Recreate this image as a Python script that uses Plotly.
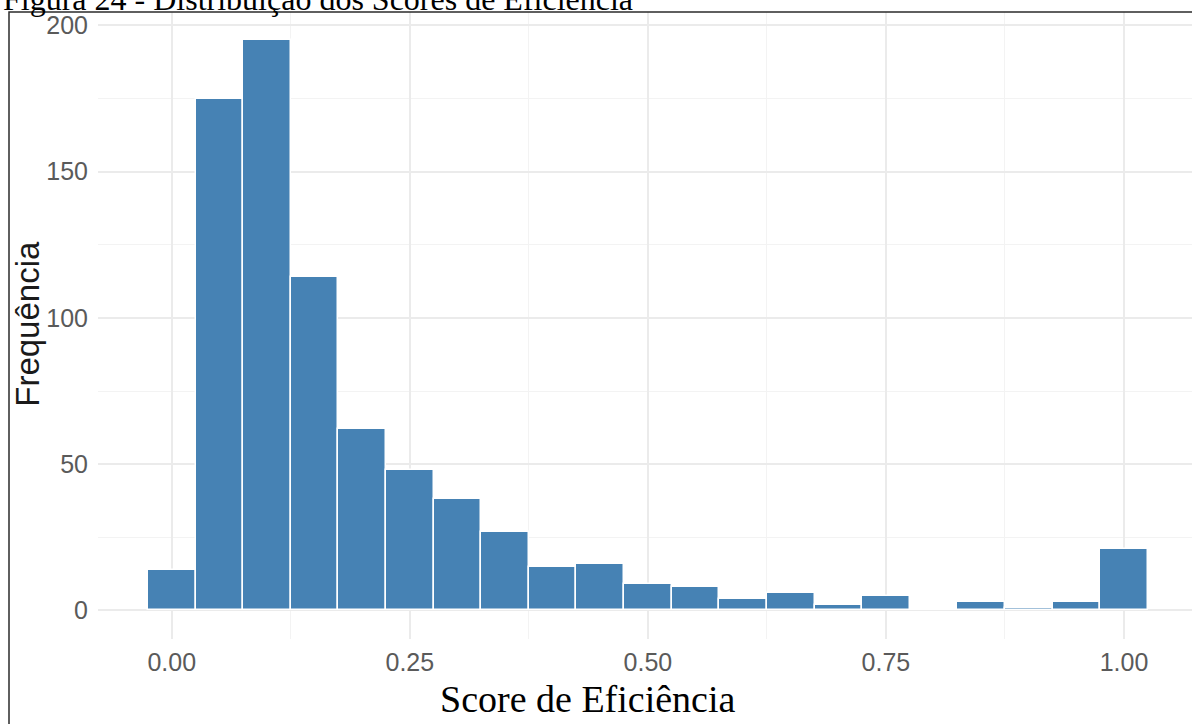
import plotly.graph_objects as go

# Data (bin width 0.05)
bin_centers = [0.00, 0.05, 0.10, 0.15, 0.20, 0.25, 0.30, 0.35, 0.40, 0.45, 0.50,
               0.55, 0.60, 0.65, 0.70, 0.75, 0.80, 0.85, 0.90, 0.95, 1.00]
frequencies = [14, 175, 195, 114, 62, 48, 38, 27, 15, 16, 9,
               8, 4, 6, 2, 5, 0, 3, 1, 3, 21]
x_tick_vals = [0.00, 0.25, 0.50, 0.75, 1.00]
x_tick_text = ["0.00", "0.25", "0.50", "0.75", "1.00"]
y_tick_vals = [0, 50, 100, 150, 200]
y_tick_text = ["0", "50", "100", "150", "200"]

W, H = 1192, 724
L, R, T, B = 98, 0, 12, 84.5
pw = W - L - R
ph = H - T - B

def px_x(px):
    return (px - L) / pw

def px_y(py):
    return (H - B - py) / ph

fig = go.Figure()
fig.add_trace(go.Bar(
    x=bin_centers, y=frequencies, width=0.05,
    marker=dict(color="#4682B4", line=dict(color="white", width=1.5)),
    showlegend=False, hoverinfo="skip",
))

tickfont = dict(family="Liberation Sans, Arial, sans-serif", size=25, color="#5a5a5a")

fig.update_layout(
    width=W, height=H,
    margin=dict(l=L, r=R, t=T, b=B, pad=0),
    paper_bgcolor="white", plot_bgcolor="white",
    bargap=0,
    xaxis=dict(
        range=[-0.0775, (W - R - 172) / 952.0],
        tickvals=x_tick_vals, ticktext=x_tick_text,
        showgrid=True, gridcolor="#EBEBEB", gridwidth=1.5,
        minor=dict(tickvals=[0.125, 0.375, 0.625, 0.875], showgrid=True,
                   gridcolor="#F3F3F3", gridwidth=1),
        zeroline=False, showline=False, ticks="",
        tickfont=tickfont, ticklabelstandoff=6,
    ),
    yaxis=dict(
        range=[-9.75, 204.6],
        tickvals=y_tick_vals, ticktext=y_tick_text,
        showgrid=True, gridcolor="#EBEBEB", gridwidth=1.5,
        minor=dict(tickvals=[25, 75, 125, 175], showgrid=True,
                   gridcolor="#F3F3F3", gridwidth=1),
        zeroline=False, showline=False, ticks="",
        tickfont=tickfont, ticklabelstandoff=9,
    ),
    shapes=[dict(type="rect", xref="paper", yref="paper",
                 x0=px_x(9), x1=px_x(1210), y0=px_y(740), y1=px_y(12),
                 line=dict(color="#2b2b2b", width=1.5), fillcolor="rgba(0,0,0,0)",
                 layer="above")],
    annotations=[
        dict(text="Score de Eficiência", xref="paper", yref="paper",
             x=px_x(588), y=px_y(700), xanchor="center", yanchor="middle",
             showarrow=False,
             font=dict(family="Liberation Serif, Times New Roman, serif", size=38, color="black")),
        dict(text="Frequência", xref="paper", yref="paper",
             x=px_x(28), y=px_y(324), xanchor="center", yanchor="middle",
             textangle=-90, showarrow=False,
             font=dict(family="Liberation Sans, Arial, sans-serif", size=33, color="#1a1a1a")),
        dict(text="Figura 24 - Distribuição dos Scores de Eficiência", xref="paper", yref="paper",
             x=px_x(1), y=px_y(19), xanchor="left", yanchor="bottom",
             showarrow=False,
             font=dict(family="Liberation Serif, Times New Roman, serif", size=32, color="black")),
    ],
)

fig.write_html("out.html", config={"displayModeBar": False},
               post_script="document.body.style.margin='0px';document.body.style.padding='0px';")
